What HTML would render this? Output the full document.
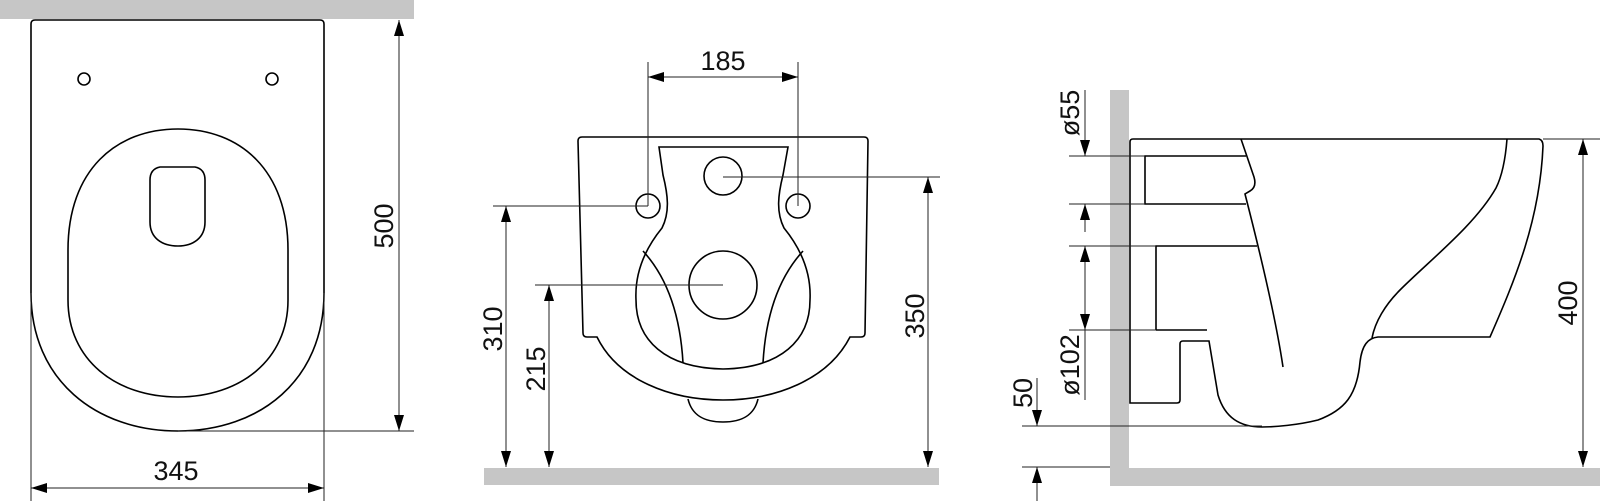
<!DOCTYPE html>
<html><head><meta charset="utf-8"><style>
html,body{margin:0;padding:0;background:#fff;}
svg{display:block;}
text{font-family:"Liberation Sans",Arial,sans-serif;font-size:27px;fill:#111;}
</style></head><body>
<svg width="1600" height="501" viewBox="0 0 1600 501" xmlns="http://www.w3.org/2000/svg">
<defs>
<marker id="a" viewBox="0 0 16 10" refX="16" refY="5" markerWidth="16" markerHeight="10" markerUnits="userSpaceOnUse" orient="auto"><path d="M0,0 L16,5 L0,10 Z" fill="#000"/></marker>
<marker id="s" viewBox="0 0 16 10" refX="0" refY="5" markerWidth="16" markerHeight="10" markerUnits="userSpaceOnUse" orient="auto"><path d="M16,0 L0,5 L16,10 Z" fill="#000"/></marker>
</defs>
<!-- gray walls -->
<rect x="0" y="0" width="414" height="19" fill="#c6c6c6"/>
<rect x="484" y="468" width="455" height="17" fill="#c6c6c6"/>
<rect x="1110" y="90" width="19" height="396" fill="#c6c6c6"/>
<rect x="1110" y="468" width="490" height="18" fill="#c6c6c6"/>

<g fill="none" stroke="#000" stroke-width="1.6">
<!-- LEFT VIEW -->
<path d="M31,24 Q31,20 35,20 L320,20 Q324,20 324,24 L324,293 C324,380 260,431 178,431 C96,431 31,380 31,293 Z"/>
<circle cx="84" cy="79" r="6"/>
<circle cx="272" cy="79" r="6"/>
<path d="M178,129 C240,129 288,170 288,250 L288,300 C288,360 240,397 178,397 C116,397 68,360 68,300 L68,250 C68,170 116,129 178,129 Z"/>
<path d="M160,167 L195,167 Q205,169 205,180 L205,222 C205,238 193,246 178,246 C162,246 150,238 150,222 L150,180 Q150,169 160,167 Z"/>

<!-- MIDDLE VIEW -->
<path d="M578,141 Q578,137 582,137 L864,137 Q868,137 868,141 L865,333 Q865,337 861,337 L850,337 C828,380 775,400 723,400 C671,400 618,380 597,337 L587,337 Q583,337 583,333 Z"/>
<path d="M688,399 C692,416 705,422 723,422 C741,422 754,416 758,399"/>
<path d="M659,147 L788,147 L783,175 C778,195 776,212 784,228 C806,255 811,280 810,300 C810,340 781,368 723,369 C665,368 636,340 636,300 C635,280 640,255 662,228 C670,212 668,195 663,175 Z"/>
<path d="M643,251 C665,275 680,310 683,363"/>
<path d="M803,251 C781,275 766,310 763,363"/>
<circle cx="723" cy="176" r="19"/>
<circle cx="648" cy="206" r="12"/>
<circle cx="798" cy="206" r="12"/>
<circle cx="723" cy="285" r="34"/>

<!-- RIGHT VIEW -->
<path d="M1130,403 L1130,142 Q1130,139 1133,139 L1539,139 Q1543,140 1543,146 C1540,220 1515,280 1490,337 L1378,337 C1368,338 1362,345 1360,362 C1357,395 1345,410 1318,420 C1298,425 1275,427 1262,427 C1240,427 1225,418 1218,395 L1209,341 L1183,341 Q1180,341 1180,344 L1180,400 Q1180,403 1177,403 Z"/>
<path d="M1156,330 L1156,246 L1257,246"/>
<path d="M1156,330 L1207,330"/>
<path d="M1246,156 L1145,156 L1145,204 L1246,204"/>
<path d="M1241,139 L1254,177 Q1257,187 1250,191 L1245,194 C1262,260 1276,320 1283,367"/>
<path d="M1507,139 C1505,165 1500,180 1496,188 C1475,225 1430,260 1400,290 C1385,305 1375,322 1372,338"/>
</g>

<!-- dimension lines -->
<g fill="none" stroke="#222" stroke-width="1">
<!-- left -->
<line x1="31" y1="293" x2="31" y2="501"/>
<line x1="324" y1="293" x2="324" y2="501"/>
<line x1="178" y1="431" x2="414" y2="431"/>
<line x1="31" y1="488" x2="324" y2="488" marker-start="url(#s)" marker-end="url(#a)"/>
<line x1="399" y1="20" x2="399" y2="431" marker-start="url(#s)" marker-end="url(#a)"/>
<!-- middle -->
<line x1="648" y1="62" x2="648" y2="206"/>
<line x1="798" y1="62" x2="798" y2="206"/>
<line x1="648" y1="77" x2="798" y2="77" marker-start="url(#s)" marker-end="url(#a)"/>
<line x1="493" y1="206" x2="648" y2="206"/>
<line x1="506" y1="206" x2="506" y2="467" marker-start="url(#s)" marker-end="url(#a)"/>
<line x1="535" y1="285" x2="723" y2="285"/>
<line x1="549" y1="285" x2="549" y2="467" marker-start="url(#s)" marker-end="url(#a)"/>
<line x1="723" y1="177" x2="940" y2="177"/>
<line x1="928" y1="177" x2="928" y2="467" marker-start="url(#s)" marker-end="url(#a)"/>
<!-- right -->
<line x1="1069" y1="156" x2="1145" y2="156"/>
<line x1="1069" y1="204" x2="1145" y2="204"/>
<line x1="1069" y1="246" x2="1156" y2="246"/>
<line x1="1069" y1="330" x2="1156" y2="330"/>
<line x1="1085" y1="90" x2="1085" y2="156" marker-end="url(#a)"/>
<line x1="1085" y1="232" x2="1085" y2="204" marker-end="url(#a)"/>
<line x1="1085" y1="246" x2="1085" y2="330" marker-start="url(#s)" marker-end="url(#a)"/>
<line x1="1085" y1="330" x2="1085" y2="400"/>
<line x1="1022" y1="426" x2="1262" y2="426"/>
<line x1="1022" y1="467" x2="1110" y2="467"/>
<line x1="1037" y1="378" x2="1037" y2="426" marker-end="url(#a)"/>
<line x1="1037" y1="501" x2="1037" y2="467" marker-end="url(#a)"/>
<line x1="1543" y1="139" x2="1600" y2="139"/>
<line x1="1583" y1="139" x2="1583" y2="467" marker-start="url(#s)" marker-end="url(#a)"/>
</g>

<!-- labels -->
<text x="176" y="480" text-anchor="middle">345</text>
<text transform="translate(393,226) rotate(-90)" text-anchor="middle">500</text>
<text x="723" y="70" text-anchor="middle">185</text>
<text transform="translate(502,329) rotate(-90)" text-anchor="middle">310</text>
<text transform="translate(545,369) rotate(-90)" text-anchor="middle">215</text>
<text transform="translate(924,316) rotate(-90)" text-anchor="middle">350</text>
<text transform="translate(1079,113) rotate(-90)" text-anchor="middle">ø55</text>
<text transform="translate(1079,365) rotate(-90)" text-anchor="middle">ø102</text>
<text transform="translate(1032,393) rotate(-90)" text-anchor="middle">50</text>
<text transform="translate(1577,303) rotate(-90)" text-anchor="middle">400</text>
</svg>
</body></html>
